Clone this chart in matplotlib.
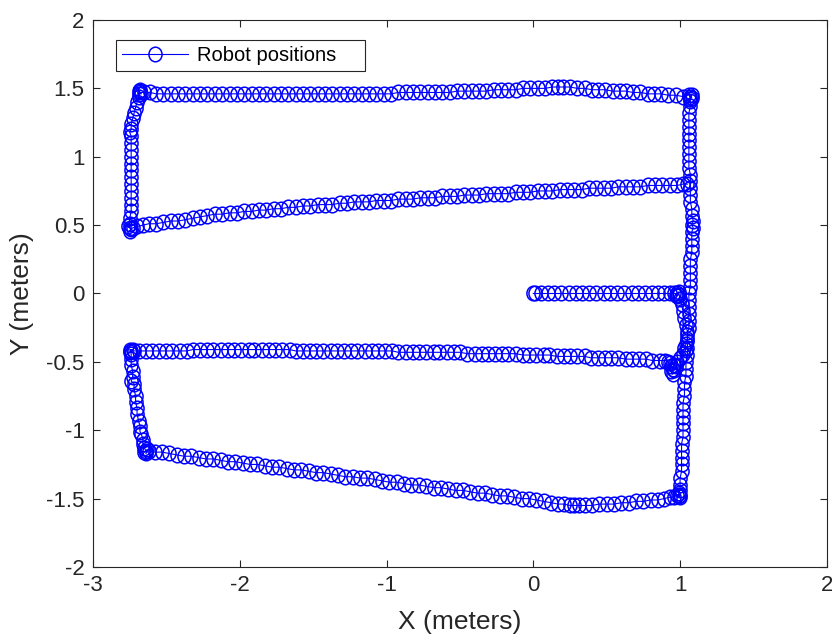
import numpy as np
import matplotlib
matplotlib.use("Agg")
import matplotlib.pyplot as plt
from matplotlib.path import Path

plt.rcParams['font.family'] = ['Liberation Sans', 'DejaVu Sans']

# Robot pose estimates (x, y) in meters, in the order they were recorded.
start_leg = [(0.00, 0.00), (0.01, 0.00), (0.05, 0.00), (0.10, 0.00), (0.14, 0.00), (0.19, 0.00),
             (0.24, 0.00), (0.29, 0.00), (0.33, 0.00), (0.38, 0.00), (0.43, 0.00), (0.48, 0.00),
             (0.52, 0.00), (0.57, 0.00), (0.62, 0.00), (0.67, 0.00), (0.71, 0.00), (0.76, 0.00),
             (0.81, 0.00), (0.85, 0.00), (0.89, 0.00), (0.93, 0.00), (0.96, 0.00), (0.98, 0.00),
             (0.99, -0.01), (0.97, -0.01), (0.98, -0.02), (0.99, 0.01)]

drop_leg = [(1.00, -0.04), (1.01, -0.08), (1.02, -0.13), (1.03, -0.18), (1.04, -0.23), (1.05, -0.28),
            (1.05, -0.33), (1.04, -0.37), (1.03, -0.40), (1.04, -0.41), (1.02, -0.44), (1.00, -0.47),
            (0.98, -0.50), (0.97, -0.53), (0.96, -0.52), (0.95, -0.55), (0.94, -0.57), (0.95, -0.59),
            (0.96, -0.56), (0.94, -0.53), (0.93, -0.51), (0.92, -0.50)]

lower_pass = [(0.90, -0.49), (0.86, -0.49), (0.81, -0.49), (0.77, -0.48), (0.72, -0.48), (0.67, -0.48),
              (0.63, -0.48), (0.58, -0.47), (0.53, -0.47), (0.49, -0.47), (0.44, -0.47), (0.39, -0.47),
              (0.35, -0.46), (0.30, -0.46), (0.25, -0.46), (0.21, -0.46), (0.16, -0.46), (0.11, -0.45),
              (0.07, -0.45), (0.02, -0.45), (-0.03, -0.45), (-0.07, -0.45), (-0.12, -0.44), (-0.17, -0.44),
              (-0.21, -0.44), (-0.26, -0.44), (-0.31, -0.44), (-0.35, -0.44), (-0.40, -0.44), (-0.45, -0.44),
              (-0.50, -0.43), (-0.54, -0.43), (-0.59, -0.43), (-0.64, -0.43), (-0.68, -0.43), (-0.73, -0.43),
              (-0.78, -0.43), (-0.82, -0.43), (-0.87, -0.43), (-0.92, -0.43), (-0.96, -0.42), (-1.01, -0.42),
              (-1.06, -0.42), (-1.10, -0.42), (-1.15, -0.42), (-1.20, -0.42), (-1.24, -0.42), (-1.29, -0.42),
              (-1.34, -0.42), (-1.38, -0.42), (-1.43, -0.42), (-1.48, -0.42), (-1.52, -0.42), (-1.57, -0.42),
              (-1.62, -0.42), (-1.66, -0.41), (-1.71, -0.41), (-1.76, -0.41), (-1.80, -0.41), (-1.85, -0.41),
              (-1.90, -0.41), (-1.94, -0.41), (-1.99, -0.41), (-2.04, -0.41), (-2.08, -0.41), (-2.13, -0.41),
              (-2.18, -0.41), (-2.22, -0.41), (-2.27, -0.41), (-2.32, -0.41), (-2.36, -0.42), (-2.41, -0.42),
              (-2.46, -0.42), (-2.50, -0.42), (-2.55, -0.42), (-2.60, -0.42), (-2.64, -0.42), (-2.69, -0.42),
              (-2.72, -0.42)]

left_lower = [(-2.74, -0.42), (-2.75, -0.43), (-2.73, -0.41), (-2.75, -0.41), (-2.74, -0.44), (-2.74, -0.48),
              (-2.74, -0.52), (-2.73, -0.57), (-2.73, -0.61), (-2.74, -0.64), (-2.72, -0.66), (-2.72, -0.70),
              (-2.71, -0.75), (-2.71, -0.79), (-2.70, -0.84), (-2.70, -0.88), (-2.69, -0.93), (-2.68, -0.97),
              (-2.68, -1.01), (-2.67, -1.03), (-2.66, -1.07), (-2.66, -1.10), (-2.65, -1.13), (-2.64, -1.15),
              (-2.65, -1.16), (-2.63, -1.14), (-2.64, -1.17), (-2.62, -1.15)]

bottom_pass = [(-2.58, -1.16), (-2.53, -1.16), (-2.48, -1.17), (-2.43, -1.18), (-2.38, -1.19), (-2.33, -1.19),
               (-2.28, -1.20), (-2.23, -1.21), (-2.18, -1.21), (-2.13, -1.22), (-2.08, -1.23), (-2.03, -1.23),
               (-1.98, -1.24), (-1.93, -1.25), (-1.88, -1.25), (-1.83, -1.26), (-1.78, -1.27), (-1.73, -1.27),
               (-1.68, -1.28), (-1.63, -1.29), (-1.58, -1.29), (-1.53, -1.30), (-1.48, -1.31), (-1.43, -1.31),
               (-1.38, -1.32), (-1.33, -1.33), (-1.28, -1.34), (-1.23, -1.34), (-1.18, -1.35), (-1.13, -1.35),
               (-1.08, -1.36), (-1.03, -1.37), (-0.98, -1.38), (-0.93, -1.38), (-0.88, -1.39), (-0.83, -1.40),
               (-0.78, -1.40), (-0.73, -1.41), (-0.68, -1.42), (-0.63, -1.42), (-0.58, -1.43), (-0.53, -1.44),
               (-0.48, -1.44), (-0.43, -1.45), (-0.38, -1.46), (-0.33, -1.46), (-0.28, -1.47), (-0.23, -1.48),
               (-0.18, -1.48), (-0.13, -1.49), (-0.08, -1.50), (-0.03, -1.50), (0.02, -1.51), (0.07, -1.52),
               (0.12, -1.53), (0.17, -1.54), (0.21, -1.54), (0.25, -1.55), (0.28, -1.55), (0.31, -1.55),
               (0.35, -1.55), (0.40, -1.55), (0.45, -1.54), (0.50, -1.54), (0.55, -1.54), (0.60, -1.53),
               (0.65, -1.53), (0.70, -1.52), (0.75, -1.52), (0.80, -1.51), (0.85, -1.51), (0.89, -1.50),
               (0.93, -1.49), (0.96, -1.49), (0.99, -1.48), (1.00, -1.47), (0.98, -1.47), (1.00, -1.49),
               (0.99, -1.46)]

right_climb = [(1.00, -1.44), (1.00, -1.40), (1.00, -1.35), (1.01, -1.30), (1.01, -1.25), (1.01, -1.20),
               (1.01, -1.15), (1.01, -1.10), (1.02, -1.05), (1.02, -1.00), (1.02, -0.95), (1.02, -0.90),
               (1.02, -0.85), (1.02, -0.80), (1.03, -0.75), (1.03, -0.70), (1.03, -0.65), (1.04, -0.60),
               (1.04, -0.55), (1.04, -0.50), (1.05, -0.45), (1.05, -0.40), (1.05, -0.35), (1.05, -0.30),
               (1.06, -0.25), (1.06, -0.20), (1.06, -0.15), (1.06, -0.10), (1.06, -0.05), (1.06, 0.00),
               (1.07, 0.05), (1.07, 0.10), (1.07, 0.15), (1.07, 0.20), (1.07, 0.25), (1.08, 0.30),
               (1.08, 0.35), (1.08, 0.40), (1.08, 0.45), (1.09, 0.48), (1.08, 0.50), (1.09, 0.53),
               (1.08, 0.57), (1.08, 0.62), (1.07, 0.67), (1.07, 0.72), (1.07, 0.77), (1.07, 0.82),
               (1.07, 0.87), (1.06, 0.92), (1.06, 0.97), (1.06, 1.02), (1.06, 1.07), (1.06, 1.12),
               (1.06, 1.17), (1.06, 1.22), (1.06, 1.27), (1.06, 1.32), (1.07, 1.37), (1.07, 1.41),
               (1.07, 1.44), (1.08, 1.43), (1.06, 1.45), (1.08, 1.45), (1.07, 1.42)]

top_pass = [(1.02, 1.44), (0.97, 1.45), (0.92, 1.45), (0.87, 1.46), (0.82, 1.46), (0.78, 1.46),
            (0.73, 1.47), (0.68, 1.47), (0.63, 1.48), (0.59, 1.48), (0.54, 1.48), (0.49, 1.49),
            (0.44, 1.49), (0.40, 1.49), (0.35, 1.50), (0.30, 1.50), (0.25, 1.51), (0.20, 1.51),
            (0.17, 1.51), (0.13, 1.51), (0.08, 1.50), (0.03, 1.50), (-0.02, 1.50), (-0.07, 1.50),
            (-0.12, 1.49), (-0.17, 1.49), (-0.22, 1.49), (-0.27, 1.49), (-0.32, 1.48), (-0.37, 1.48),
            (-0.42, 1.48), (-0.47, 1.48), (-0.52, 1.48), (-0.57, 1.47), (-0.62, 1.47), (-0.67, 1.47),
            (-0.72, 1.47), (-0.77, 1.47), (-0.82, 1.47), (-0.87, 1.47), (-0.92, 1.47), (-0.97, 1.46),
            (-1.02, 1.46), (-1.07, 1.46), (-1.12, 1.46), (-1.17, 1.46), (-1.22, 1.46), (-1.27, 1.46),
            (-1.32, 1.46), (-1.37, 1.46), (-1.42, 1.46), (-1.47, 1.46), (-1.52, 1.46), (-1.57, 1.46),
            (-1.62, 1.46), (-1.67, 1.46), (-1.72, 1.46), (-1.77, 1.46), (-1.82, 1.46), (-1.87, 1.46),
            (-1.92, 1.46), (-1.97, 1.46), (-2.02, 1.46), (-2.07, 1.46), (-2.12, 1.46), (-2.17, 1.46),
            (-2.22, 1.46), (-2.27, 1.46), (-2.32, 1.46), (-2.37, 1.46), (-2.42, 1.46), (-2.47, 1.46),
            (-2.52, 1.46), (-2.57, 1.46), (-2.61, 1.47), (-2.65, 1.47), (-2.68, 1.47), (-2.69, 1.48),
            (-2.67, 1.46), (-2.69, 1.46), (-2.68, 1.49)]

left_upper = [(-2.69, 1.44), (-2.70, 1.40), (-2.71, 1.36), (-2.72, 1.32), (-2.73, 1.28), (-2.74, 1.24),
              (-2.74, 1.20), (-2.75, 1.18), (-2.74, 1.15), (-2.74, 1.10), (-2.74, 1.05), (-2.74, 1.00),
              (-2.74, 0.95), (-2.74, 0.90), (-2.74, 0.85), (-2.74, 0.80), (-2.74, 0.75), (-2.74, 0.70),
              (-2.74, 0.65), (-2.74, 0.60), (-2.75, 0.55), (-2.75, 0.51), (-2.75, 0.48), (-2.76, 0.49),
              (-2.74, 0.47), (-2.75, 0.46), (-2.73, 0.48)]

middle_pass = [(-2.70, 0.49), (-2.66, 0.50), (-2.62, 0.51), (-2.57, 0.51), (-2.52, 0.52), (-2.47, 0.53),
               (-2.42, 0.53), (-2.37, 0.54), (-2.32, 0.55), (-2.27, 0.56), (-2.22, 0.57), (-2.17, 0.58),
               (-2.12, 0.58), (-2.07, 0.59), (-2.02, 0.59), (-1.97, 0.60), (-1.92, 0.60), (-1.87, 0.61),
               (-1.82, 0.61), (-1.77, 0.62), (-1.72, 0.62), (-1.67, 0.63), (-1.62, 0.63), (-1.57, 0.64),
               (-1.52, 0.64), (-1.47, 0.65), (-1.42, 0.65), (-1.37, 0.65), (-1.32, 0.66), (-1.27, 0.66),
               (-1.22, 0.67), (-1.17, 0.67), (-1.12, 0.67), (-1.07, 0.68), (-1.02, 0.68), (-0.97, 0.68),
               (-0.92, 0.69), (-0.87, 0.69), (-0.82, 0.69), (-0.77, 0.70), (-0.72, 0.70), (-0.67, 0.70),
               (-0.62, 0.71), (-0.57, 0.71), (-0.52, 0.71), (-0.47, 0.72), (-0.42, 0.72), (-0.37, 0.72),
               (-0.32, 0.73), (-0.27, 0.73), (-0.22, 0.73), (-0.17, 0.73), (-0.12, 0.74), (-0.07, 0.74),
               (-0.02, 0.74), (0.03, 0.75), (0.08, 0.75), (0.13, 0.75), (0.18, 0.76), (0.23, 0.76),
               (0.28, 0.76), (0.33, 0.76), (0.38, 0.77), (0.43, 0.77), (0.48, 0.77), (0.53, 0.77),
               (0.58, 0.78), (0.63, 0.78), (0.68, 0.78), (0.73, 0.78), (0.78, 0.79), (0.83, 0.79),
               (0.88, 0.79), (0.93, 0.79), (0.98, 0.79), (1.02, 0.80), (1.05, 0.80)]

x_ticks = [-3, -2, -1, 0, 1, 2]
x_tick_labels = ['-3', '-2', '-1', '0', '1', '2']
y_ticks = [-2, -1.5, -1, -0.5, 0, 0.5, 1, 1.5, 2]
y_tick_labels = ['-2', '-1.5', '-1', '-0.5', '0', '0.5', '1', '1.5', '2']

path = np.array(start_leg + drop_leg + lower_pass + left_lower + bottom_pass
                + right_climb + top_pass + left_upper + middle_pass)

# Slightly upright open ring used as the pose marker.
ring = Path.unit_circle()
ring = Path(ring.vertices * np.array([0.9, 1.0]), ring.codes)

fig = plt.figure(figsize=(8.32, 6.35), dpi=100)
ax = fig.add_axes([0.1118, 0.1071, 0.882, 0.8614])

ax.plot(path[:, 0], path[:, 1], '-', marker=ring, color=(0, 0, 1), mfc='none',
        mec=(0, 0, 1), ms=10.5, mew=1.1, lw=0.8, label='Robot positions    ')

ax.set_xlim(-3, 2)
ax.set_ylim(-2, 2)
ax.set_xticks(x_ticks)
ax.set_xticklabels(x_tick_labels)
ax.set_yticks(y_ticks)
ax.set_yticklabels(y_tick_labels)

axis_grey = '0.15'
for side in ax.spines.values():
    side.set_color(axis_grey)
    side.set_linewidth(0.8)
ax.tick_params(direction='in', length=5, width=0.8, colors=axis_grey,
               labelsize=16, top=True, right=True, pad=6)
for lbl in ax.get_xticklabels() + ax.get_yticklabels():
    lbl.set_color(axis_grey)

ax.set_xlabel('X (meters)', fontsize=19, color=axis_grey, labelpad=10)
ax.set_ylabel('Y (meters)', fontsize=19, color=axis_grey, labelpad=9)

leg = ax.legend(loc='upper left', bbox_to_anchor=(0.031, 0.963), borderaxespad=0,
                fontsize=14.5, numpoints=1, handlelength=3.3, fancybox=False,
                framealpha=1, edgecolor=axis_grey, borderpad=0.3, handletextpad=0.45)
leg.get_frame().set_linewidth(0.8)

fig.savefig('out.png', dpi=100)
